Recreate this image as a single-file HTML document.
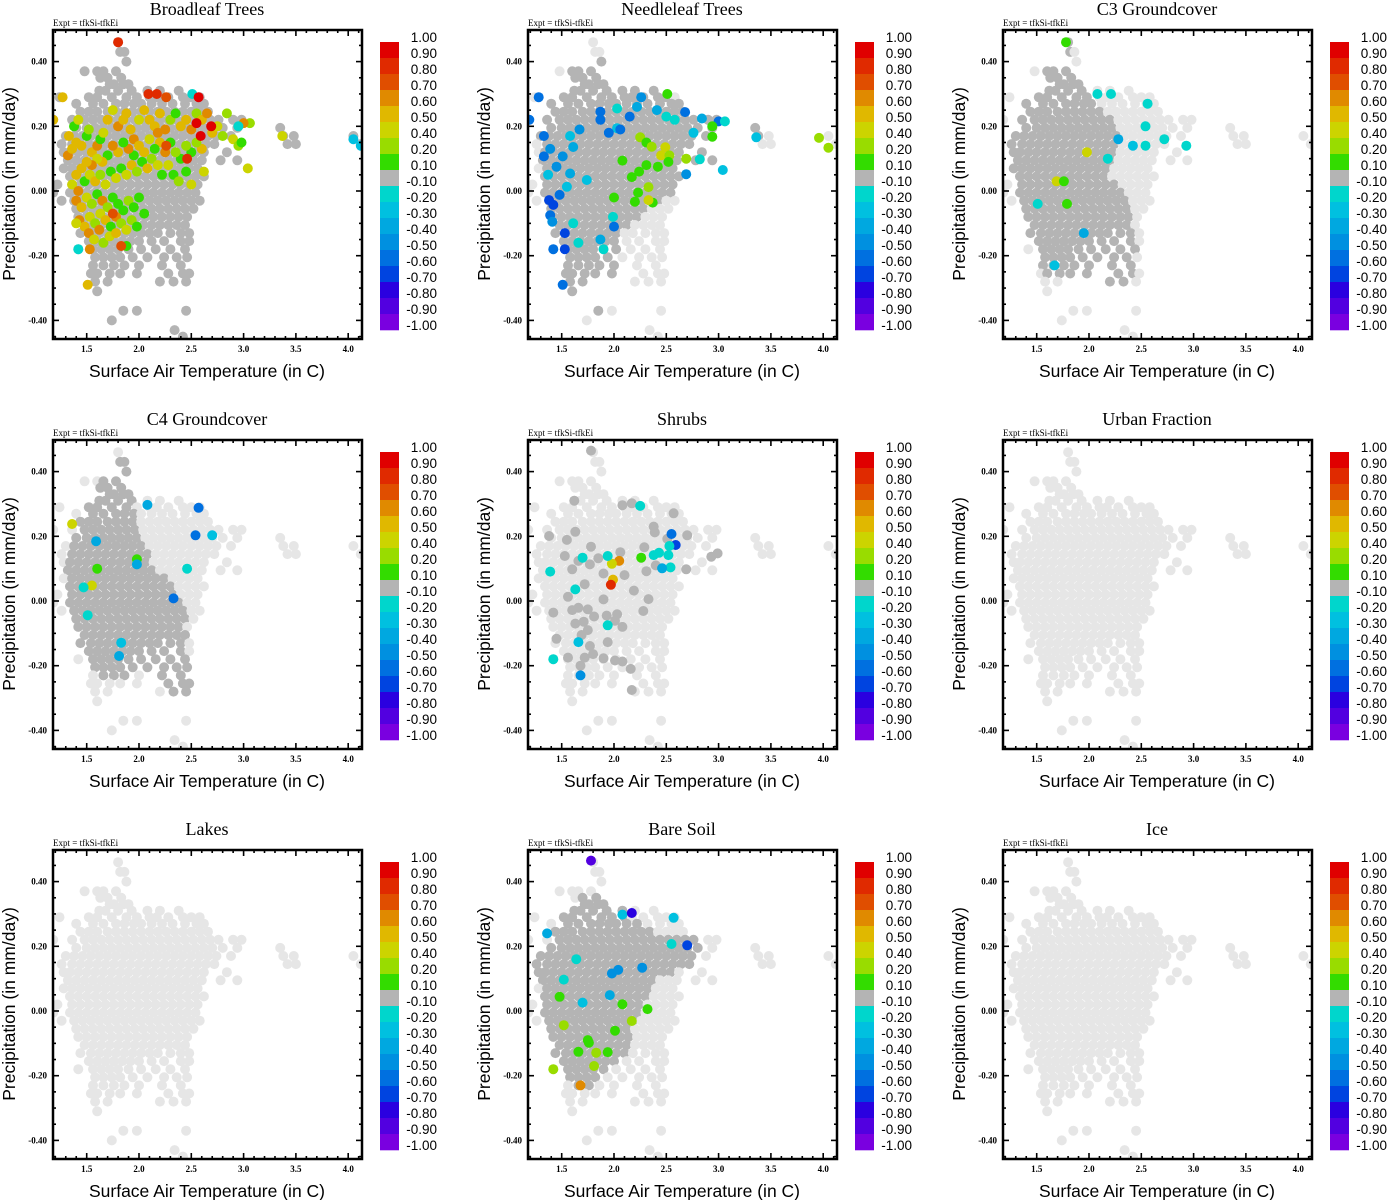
<!DOCTYPE html>
<html><head><meta charset="utf-8">
<style>
html,body{margin:0;padding:0;background:#fff;}
svg{display:block;}
</style></head>
<body>
<svg id="fig" width="1387" height="1200" viewBox="0 0 1387 1200" xmlns="http://www.w3.org/2000/svg"></svg>
<script>
// ---------- DATA ----------
const panelTitles = ["Broadleaf Trees","Needleleaf Trees","C3 Groundcover","C4 Groundcover","Shrubs","Urban Fraction","Lakes","Bare Soil","Ice"];
const xTicks = [1.5,2.0,2.5,3.0,3.5,4.0];
const xTickLabels = ["1.5","2.0","2.5","3.0","3.5","4.0"];
const yTicks = [0.4,0.2,0.0,-0.2,-0.4];
const yTickLabels = ["0.40","0.20","0.00","-0.20","-0.40"];
const cbLabels = ["1.00","0.90","0.80","0.70","0.60","0.50","0.40","0.20","0.10","-0.10","-0.20","-0.30","-0.40","-0.50","-0.60","-0.70","-0.80","-0.90","-1.00"];
const cbThresholds = [0.9,0.8,0.7,0.6,0.5,0.4,0.2,0.1,-0.1,-0.2,-0.3,-0.4,-0.5,-0.6,-0.7,-0.8,-0.9];
const cbColors = ["#e00000","#e02a00","#e04e00","#e08a00","#e0b800","#ccd400","#99dc00","#33dc00","#b4b4b4","#00d6cc","#00c0e0","#00a8e0","#0090e0","#0070e0","#0044e0","#2a00e0","#5200e0","#7a00e0"];

const rowP = [0.46,0.43,0.40,0.37,0.35,0.33,0.31,0.29,0.27,0.245,0.22,0.195,0.17,0.145,0.12,0.095,0.07,0.045,0.02,-0.005,-0.03,-0.055,-0.08,-0.105,-0.13,-0.155,-0.18,-0.205,-0.23,-0.255,-0.28,-0.31,-0.37,-0.40,-0.43,-0.45];
const rowT = [
[1.80],[1.82,1.86],[1.88],[1.48,1.60,1.66,1.78],[1.63,1.70,1.83],[1.72,1.76,1.85,1.90],
[1.62,1.68,1.80,1.93,2.08,2.20,2.38],
[1.24,1.52,1.60,1.74,1.88,1.98,2.10,2.17,2.28,2.42,2.50,2.58],
[1.40,1.56,1.66,1.78,1.86,1.95,2.02,2.12,2.22,2.32,2.44,2.55,2.62],
[1.44,1.52,1.60,1.70,1.78,1.86,1.94,2.02,2.10,2.18,2.26,2.34,2.42,2.50,2.58,2.66],
[1.18,1.36,1.48,1.56,1.64,1.72,1.80,1.88,1.96,2.04,2.12,2.20,2.28,2.36,2.44,2.52,2.60,2.68,2.76,2.90,2.98],
[1.40,1.50,1.58,1.66,1.74,1.82,1.90,1.98,2.06,2.14,2.22,2.30,2.38,2.46,2.54,2.62,2.70,2.80,2.94,3.35],
[1.30,1.38,1.46,1.54,1.62,1.70,1.78,1.86,1.94,2.02,2.10,2.18,2.26,2.34,2.42,2.50,2.58,2.66,2.74,2.88,3.38,3.48,4.05],
[1.26,1.36,1.44,1.52,1.60,1.68,1.76,1.84,1.92,2.00,2.08,2.16,2.24,2.32,2.40,2.48,2.56,2.64,2.72,3.42,3.50,4.12],
[1.28,1.34,1.42,1.50,1.58,1.66,1.74,1.82,1.90,1.98,2.06,2.14,2.22,2.30,2.38,2.46,2.54,2.62,2.84],
[1.32,1.40,1.48,1.56,1.64,1.72,1.80,1.88,1.96,2.04,2.12,2.20,2.28,2.36,2.44,2.52,2.60,2.78,2.94],
[1.28,1.36,1.44,1.52,1.60,1.68,1.76,1.84,1.92,2.00,2.08,2.16,2.24,2.32,2.40,2.48,2.56],
[1.34,1.42,1.50,1.58,1.66,1.74,1.82,1.90,1.98,2.06,2.14,2.22,2.30,2.38,2.46,2.54,2.62],
[1.22,1.36,1.44,1.52,1.60,1.68,1.76,1.84,1.92,2.00,2.08,2.16,2.24,2.32,2.40,2.48,2.56],
[1.18,1.34,1.42,1.50,1.58,1.66,1.74,1.82,1.90,1.98,2.06,2.14,2.22,2.30,2.38,2.46,2.54],
[1.26,1.38,1.46,1.54,1.62,1.70,1.78,1.86,1.94,2.02,2.10,2.18,2.26,2.34,2.42,2.50,2.58],
[1.40,1.48,1.56,1.64,1.72,1.80,1.88,1.96,2.04,2.12,2.20,2.28,2.36,2.44,2.52],
[1.42,1.50,1.58,1.66,1.74,1.82,1.90,1.98,2.06,2.14,2.22,2.30,2.38,2.46],
[1.48,1.56,1.64,1.72,1.80,1.88,1.96,2.04,2.12,2.20,2.28,2.36,2.44],
[1.44,1.54,1.62,1.70,1.78,1.86,1.94,2.02,2.10,2.18,2.30,2.40,2.48],
[1.52,1.60,1.68,1.76,1.84,1.92,2.00,2.12,2.24,2.40,2.48],
[1.42,1.56,1.64,1.72,1.80,1.90,2.02,2.16,2.30,2.44],
[1.58,1.66,1.74,1.82,1.94,2.08,2.24,2.36,2.46],
[1.56,1.66,1.76,1.86,2.00,2.22,2.40],
[1.54,1.60,1.72,1.82,1.98,2.28,2.42,2.48],
[1.58,1.70,2.20,2.33,2.45],[1.60],[1.85,1.98,2.45],[1.74],[2.34],[2.42]
];

const darkRegions = [
 [[1.1,0.5],[4.2,0.5],[4.2,-0.5],[1.1,-0.5]],
 [[1.30,0.28],[1.55,0.40],[1.85,0.42],[2.4,0.31],[2.9,0.23],[3.6,0.19],[3.0,0.10],[2.6,-0.02],[2.3,-0.05],[2.05,-0.15],[1.95,-0.40],[1.6,-0.32],[1.4,-0.12],[1.28,0.05]],
 [[1.25,0.25],[1.55,0.38],[1.8,0.47],[1.95,0.31],[2.1,0.27],[2.3,0.18],[2.2,0.05],[2.4,-0.05],[2.45,-0.2],[2.4,-0.37],[2.2,-0.3],[1.9,-0.25],[1.6,-0.28],[1.35,-0.1],[1.25,0.05]],
 [[1.30,0.15],[1.55,0.33],[1.85,0.45],[1.95,0.30],[2.05,0.20],[2.15,0.10],[2.35,0.04],[2.45,-0.05],[2.5,-0.25],[2.45,-0.32],[2.3,-0.3],[2.0,-0.22],[1.6,-0.25],[1.45,-0.15],[1.3,-0.05]],
 [],[],[],
 [[1.25,0.16],[1.6,0.33],[1.85,0.38],[2.3,0.25],[2.8,0.22],[2.9,0.15],[2.4,0.10],[2.2,-0.05],[2.1,-0.15],[1.8,-0.25],[1.6,-0.25],[1.4,-0.1],[1.3,0.05]],
 []
];

const ptsBroadleaf = [
[1.27,0.29,0.5],[1.18,0.22,0.5],[1.33,0.17,0.5],[1.38,0.20,0.1],[1.42,0.22,0.4],[1.32,0.11,0.6],[1.36,0.13,0.5],[1.40,0.15,0.5],[1.45,0.14,0.5],[1.50,0.17,0.1],[1.52,0.19,0.2],[1.55,0.12,0.5],[1.60,0.14,0.6],[1.63,0.16,0.1],[1.66,0.18,0.4],[1.70,0.22,0.5],[1.75,0.25,0.4],[1.80,0.20,0.6],[1.85,0.22,0.5],[1.88,0.24,0.5],[1.92,0.19,0.5],[1.95,0.16,0.6],[2.00,0.22,0.4],[2.05,0.25,0.5],[2.10,0.22,0.5],[2.15,0.20,0.5],[2.18,0.18,0.6],[2.20,0.24,0.5],[2.25,0.19,0.6],[2.30,0.22,0.2],[2.35,0.24,0.1],[2.40,0.20,0.5],[2.45,0.22,0.5],[2.50,0.19,0.6],[2.55,0.24,0.2],[2.60,0.22,0.5],[2.65,0.24,0.6],[2.70,0.18,0.5],[2.75,0.20,0.4],[2.80,0.17,0.2],[2.84,0.24,0.2],[2.90,0.16,0.4],[2.95,0.14,0.2],[2.98,0.15,0.1],[2.60,0.13,0.5],[2.55,0.15,0.2],[2.50,0.12,0.1],[2.45,0.14,0.2],[2.40,0.10,0.1],[2.35,0.12,0.2],[2.30,0.15,0.1],[2.25,0.12,0.6],[2.20,0.15,0.5],[2.15,0.13,0.1],[2.10,0.16,0.4],[2.05,0.12,0.5],[2.00,0.14,0.5],[1.95,0.11,0.1],[1.90,0.13,0.6],[1.85,0.15,0.1],[1.80,0.12,0.5],[1.75,0.14,0.6],[1.70,0.11,0.1],[1.65,0.09,0.5],[1.60,0.10,0.4],[1.55,0.08,0.6],[1.50,0.09,0.5],[1.45,0.07,0.5],[1.40,0.05,0.5],[1.36,0.02,0.4],[1.42,0.00,0.6],[1.48,0.03,0.1],[1.53,0.05,0.4],[1.58,0.03,0.5],[1.63,0.05,0.2],[1.68,0.02,0.4],[1.73,0.06,0.1],[1.78,0.04,0.4],[1.83,0.07,0.1],[1.88,0.05,0.4],[1.93,0.08,0.5],[1.98,0.06,0.2],[2.03,0.09,0.1],[2.08,0.07,0.5],[2.12,0.10,0.2],[2.18,0.08,0.4],[2.22,0.05,0.1],[2.28,0.08,0.4],[2.33,0.05,0.1],[2.38,0.03,0.2],[2.45,0.06,0.1],[2.50,0.02,0.4],[2.62,0.06,0.4],
[1.40,-0.03,0.6],[1.45,-0.05,0.5],[1.50,-0.02,0.4],[1.55,-0.04,0.2],[1.60,-0.01,0.1],[1.65,-0.03,0.6],[1.70,-0.05,0.2],[1.75,-0.02,0.1],[1.80,-0.04,0.1],[1.85,-0.06,0.1],[1.90,-0.03,0.2],[1.95,-0.05,0.1],[2.00,-0.02,0.1],[2.05,-0.07,0.1],[1.43,-0.09,0.6],[1.48,-0.11,0.5],[1.53,-0.08,0.4],[1.58,-0.10,0.2],[1.63,-0.07,0.4],[1.68,-0.09,0.5],[1.73,-0.11,0.1],[1.78,-0.08,0.6],[1.83,-0.10,0.2],[1.88,-0.12,0.4],[1.93,-0.09,0.2],[1.98,-0.11,0.1],[1.52,-0.13,0.6],[1.57,-0.15,0.4],[1.62,-0.12,0.6],[1.66,-0.16,0.2],[1.72,-0.14,0.4],[1.78,-0.13,0.5],[1.88,-0.17,0.1],[1.42,-0.18,-0.2],[1.53,-0.18,0.6],[1.51,-0.29,0.5],[1.40,-0.10,0.4],
[1.80,0.46,0.8],[2.09,0.30,0.8],[2.17,0.30,0.8],[2.26,0.29,0.7],[2.51,0.30,-0.2],[2.57,0.29,0.9],[2.55,0.21,0.9],[2.69,0.20,0.9],[2.59,0.17,0.9],[2.46,0.10,0.8],[2.26,0.14,0.7],[3.04,0.07,0.4],[3.06,0.21,0.2],[3.00,0.21,0.6],[1.75,-0.07,0.7],[1.83,-0.17,0.7],[3.37,0.17,0.4],[4.05,0.16,-0.3],[4.12,0.14,-0.3],[2.95,0.20,-0.2]
];
const ptsNeedleleaf = [
[1.28,0.29,-0.6],[1.19,0.22,-0.6],[1.33,0.17,-0.6],[1.33,0.107,-0.6],[1.39,0.13,-0.5],[1.38,-0.028,-0.7],[1.42,-0.043,-0.7],[1.39,-0.075,-0.6],[1.41,-0.095,-0.5],[1.42,-0.18,-0.6],[1.53,-0.18,-0.7],[1.51,-0.29,-0.6],[1.53,-0.13,-0.7],[1.48,-0.012,-0.6],[1.37,0.05,-0.3],[1.45,0.075,-0.5],[1.51,0.107,-0.5],[1.61,0.136,-0.4],[1.58,0.17,-0.3],[1.87,0.22,-0.6],[1.87,0.245,-0.6],[2.03,0.194,-0.3],[2.03,0.255,-0.2],[1.95,0.18,-0.6],[2.22,0.26,-0.4],[2.26,0.29,-0.5],[2.41,0.25,-0.4],[2.50,0.23,-0.2],[2.58,0.22,-0.2],[2.68,0.244,-0.6],[2.76,0.18,-0.3],[2.84,0.224,-0.4],[3.00,0.215,-0.6],[3.06,0.215,-0.2],[2.82,0.098,-0.2],[3.04,0.065,-0.3],[2.69,0.052,-0.5],[3.36,0.166,-0.3],[2.15,0.23,-0.6],[2.06,0.19,-0.6],[1.67,0.19,-0.5],[1.58,0.054,-0.4],[1.74,0.034,-0.3],[1.55,0.013,-0.3],[1.99,-0.08,-0.2],[1.87,-0.15,-0.4],[1.90,-0.18,-0.2],[1.66,-0.16,-0.2],[1.61,-0.10,-0.2],[2.00,-0.11,-0.6],
[2.51,0.30,0.1],[2.94,0.20,0.1],[2.94,0.168,0.1],[2.25,0.166,0.2],[2.31,0.15,0.1],[2.36,0.137,0.2],[2.49,0.135,0.4],[2.45,0.11,0.4],[2.53,0.11,0.2],[2.31,0.08,0.1],[2.42,0.075,0.1],[2.52,0.09,0.1],[2.69,0.10,0.2],[2.08,0.094,0.1],[2.24,0.06,0.1],[2.17,0.043,0.1],[2.33,0.012,0.2],[2.23,-0.005,0.1],[2.00,-0.02,0.1],[2.20,-0.033,0.1],[2.37,-0.036,0.1],[2.33,-0.028,0.4],[3.96,0.164,0.2],[4.05,0.134,0.2]
];
const ptsC3 = [
[1.78,0.46,0.1],[2.08,0.30,-0.2],[2.21,0.30,-0.2],[2.56,0.27,-0.2],[2.54,0.20,-0.2],[2.54,0.14,-0.2],[2.42,0.14,-0.3],[2.28,0.16,-0.4],[2.18,0.10,-0.2],[1.98,0.12,0.4],[2.72,0.16,-0.2],[2.93,0.14,-0.2],[1.69,0.03,0.4],[1.76,0.03,0.1],[1.79,-0.04,0.1],[1.51,-0.04,-0.2],[1.95,-0.13,-0.4],[1.67,-0.23,-0.3]
];
const ptsC4 = [
[1.36,0.238,0.4],[1.59,0.185,-0.4],[2.08,0.297,-0.4],[2.57,0.288,-0.6],[2.54,0.203,-0.6],[2.70,0.203,-0.3],[1.98,0.129,0.1],[1.98,0.113,-0.4],[1.60,0.10,0.1],[1.55,0.048,0.4],[2.46,0.10,-0.2],[2.33,0.008,-0.6],[1.51,-0.044,-0.2],[1.83,-0.129,-0.3],[1.81,-0.17,-0.4],[1.47,0.042,-0.2]
];
const ptsShrubs = [
[1.78,0.465,0],[1.62,0.31,0],[2.08,0.296,0],[2.17,0.302,0],[2.57,0.271,0],[2.38,0.230,0],[1.38,0.201,0],[1.55,0.189,0],[1.63,0.214,0],[1.78,0.168,0],[2.06,0.151,0],[2.29,0.166,0],[2.70,0.203,0],[2.51,0.192,0],[2.39,0.212,0],[1.53,0.139,0],[1.66,0.124,0],[1.77,0.113,0],[1.85,0.132,0],[1.60,0.098,0],[1.90,0.085,0],[2.10,0.080,0],[2.31,0.092,0],[2.40,0.11,0],[2.69,0.098,0],[2.93,0.137,0],[2.99,0.147,0],[1.72,0.052,0],[1.56,0.013,0],[1.90,0.005,0],[2.19,0.032,0],[2.33,0.006,0],[1.42,-0.036,0],[1.60,-0.028,0],[1.66,-0.021,0],[1.75,-0.026,0],[2.03,-0.041,0],[2.28,-0.031,0],[1.63,-0.07,0],[1.71,-0.064,0],[1.81,-0.048,0],[1.93,-0.045,0],[2.01,-0.061,0],[2.08,-0.08,0],[1.75,-0.09,0],[1.69,-0.105,0],[1.45,-0.117,0],[1.77,-0.139,0],[1.94,-0.127,0],[1.80,-0.164,0],[1.56,-0.175,0],[1.72,-0.175,0],[1.90,-0.177,0],[2.01,-0.184,0],[2.08,-0.187,0],[1.68,-0.2,0],[2.16,-0.21,0],[2.17,-0.275,0],
[2.25,0.294,-0.2],[2.55,0.207,-0.6],[2.59,0.173,-0.7],[2.53,0.170,-0.2],[2.43,0.149,-0.2],[2.38,0.142,-0.2],[2.52,0.142,-0.2],[2.54,0.104,-0.2],[2.46,0.101,-0.4],[2.26,0.134,0.1],[2.05,0.124,0.6],[1.98,0.115,0.4],[1.94,0.139,-0.2],[1.70,0.134,-0.2],[1.39,0.091,-0.2],[1.99,0.066,0.5],[1.97,0.05,0.8],[1.63,0.036,-0.2],[1.94,-0.075,-0.2],[1.66,-0.127,-0.3],[1.42,-0.18,-0.2],[1.68,-0.23,-0.5]
];
const ptsUrban = [];
const ptsLakes = [];
const ptsBareSoil = [
[1.78,0.465,-0.9],[1.36,0.24,-0.4],[2.08,0.298,-0.3],[2.17,0.303,-0.8],[2.57,0.288,-0.3],[2.55,0.207,-0.2],[2.70,0.203,-0.7],[1.64,0.16,-0.2],[2.04,0.127,-0.5],[1.98,0.116,-0.5],[2.27,0.134,-0.5],[1.52,0.097,-0.2],[1.96,0.049,-0.4],[1.48,0.044,0.1],[2.08,0.021,0.1],[2.32,0.006,0.1],[1.52,-0.044,0.2],[2.17,-0.031,0.2],[2.01,-0.061,0.1],[1.75,-0.09,0.1],[1.76,-0.098,0.1],[1.66,-0.126,0.1],[1.83,-0.129,0.2],[1.94,-0.127,0.1],[1.81,-0.17,0.2],[1.42,-0.18,0.2],[1.68,-0.23,0.6],[1.70,0.026,-0.3]
];
const ptsIce = [];
const panelPoints = [ptsBroadleaf,ptsNeedleleaf,ptsC3,ptsC4,ptsShrubs,ptsUrban,ptsLakes,ptsBareSoil,ptsIce];

// ---------- DRAW ----------
const NS = "http://www.w3.org/2000/svg";
const svg = document.getElementById('fig');
const X0=53, X1=362, Y0=30, Y1=339;
function xScale(t){ return 139 + (t-2)*104.6; }
function yScale(p){ return 191 - p*323.5; }
function mk(tag, attrs, parent){
  const e = document.createElementNS(NS, tag);
  for (const k in attrs) e.setAttribute(k, attrs[k]);
  parent.appendChild(e);
  return e;
}
function colorFor(v){
  for (let i=0;i<cbThresholds.length;i++){ if (v >= cbThresholds[i]-1e-9) return cbColors[i]; }
  return cbColors[cbColors.length-1];
}
function inPoly(t,p,poly){
  let inside=false;
  for (let i=0,j=poly.length-1;i<poly.length;j=i++){
    const xi=poly[i][0], yi=poly[i][1], xj=poly[j][0], yj=poly[j][1];
    if (((yi>p)!==(yj>p)) && (t < (xj-xi)*(p-yi)/(yj-yi)+xi)) inside=!inside;
  }
  return inside;
}
const defs = mk('defs',{},svg);
const cp = mk('clipPath',{id:'plotclip'},defs);
mk('rect',{x:X0,y:Y0,width:X1-X0,height:Y1-Y0},cp);

function dot(g, t, p, fill){
  const c = mk('circle',{cx:xScale(t).toFixed(1), cy:yScale(p).toFixed(1), r:5.0, fill:fill},g);
  
  
  return c;
}

for (let k=0;k<9;k++){
  const col=k%3, row=Math.floor(k/3);
  const g = mk('g',{transform:`translate(${col*475},${row*410})`},svg);
  
  

  const title = mk('text',{x:207,y:15,'text-anchor':'middle','font-family':'"Liberation Serif",serif','font-size':18},g);
  title.textContent = panelTitles[k];
  
  

  const ex = mk('text',{x:53,y:26,'font-family':'"Liberation Serif",serif','font-size':9},g);
  ex.textContent = 'Expt = tfkSi-tfkEi';
  
  

  const pg = mk('g',{'clip-path':'url(#plotclip)'},g);
  
  
  const region = darkRegions[k];
  for (let r=0;r<rowP.length;r++){
    for (const t of rowT[r]){
      const dark = region.length>0 && inPoly(t,rowP[r],region);
      dot(pg, t, rowP[r], dark ? '#b4b4b4' : '#e6e6e6');
    }
  }
  for (const pt of panelPoints[k]){
    dot(pg, pt[0], pt[1], colorFor(pt[2]));
  }

  const fr = mk('rect',{x:X0,y:Y0,width:X1-X0,height:Y1-Y0,fill:'none',stroke:'#000','stroke-width':2.5},g);
  
  

  const tk = mk('g',{stroke:'#000','stroke-width':1.6},g);
  
  
  for (let i=12;i<=41;i++){
    const t=i/10, x=xScale(t);
    if (x<X0+2||x>X1-2) continue;
    const major = (i%5===0);
    const L = major?6:3;
    mk('line',{x1:x,y1:Y1,x2:x,y2:Y1-L},tk);
    mk('line',{x1:x,y1:Y0,x2:x,y2:Y0+L},tk);
  }
  for (let i=-9;i<=10;i++){
    const p=i*0.05, y=yScale(p);
    if (y<Y0+2||y>Y1-2) continue;
    const major = (i%4===0);
    const L = major?6:3;
    mk('line',{x1:X0,y1:y,x2:X0+L,y2:y},tk);
    mk('line',{x1:X1,y1:y,x2:X1-L,y2:y},tk);
  }
  xTicks.forEach((t,i)=>{
    const e = mk('text',{x:xScale(t),y:352,'text-anchor':'middle','font-family':'"Liberation Serif",serif','font-size':9,'font-weight':'bold'},g);
    e.textContent = xTickLabels[i];
    
    
  });
  yTicks.forEach((p,i)=>{
    const e = mk('text',{x:47,y:yScale(p)+3,'text-anchor':'end','font-family':'"Liberation Serif",serif','font-size':9,'font-weight':'bold'},g);
    e.textContent = yTickLabels[i];
    
    
  });
  const xt = mk('text',{x:207,y:377,'text-anchor':'middle','font-family':'"Liberation Sans",sans-serif','font-size':17.5},g);
  xt.textContent = 'Surface Air Temperature (in C)';
  
  
  const yt = mk('text',{x:0,y:0,'text-anchor':'middle','font-family':'"Liberation Sans",sans-serif','font-size':17.5,transform:'translate(15,184) rotate(-90)'},g);
  yt.textContent = 'Precipitation (in mm/day)';
  
  

  const cb = mk('g',{},g);
  
  
  cbColors.forEach((c,i)=>{
    const r = mk('rect',{x:380,y:42+i*16,width:19,height:16.3,fill:c},cb);
    
    
  });
  cbLabels.forEach((s,i)=>{
    const e = mk('text',{x:437,y:42+i*16,'text-anchor':'end','font-family':'"Liberation Sans",sans-serif','font-size':13.5},cb);
    e.textContent = s;
    
    
  });
}
</script>
</body></html>
